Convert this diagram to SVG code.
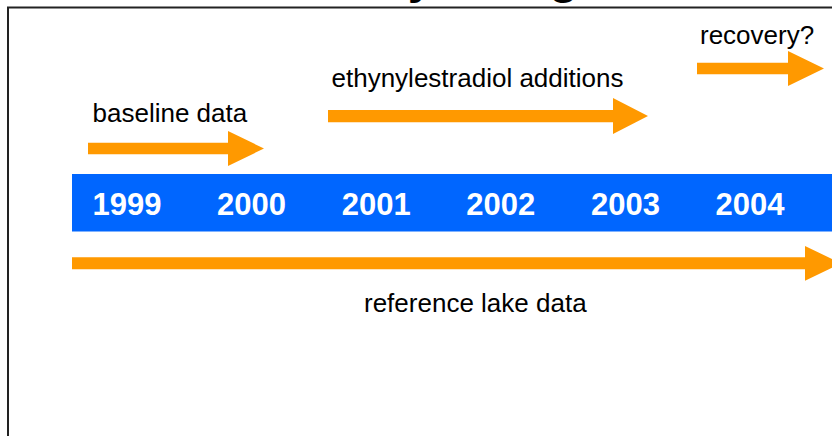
<svg xmlns="http://www.w3.org/2000/svg" width="832" height="436" viewBox="0 0 832 436">
<style>
.lbl{font-family:"Liberation Sans",Arial,sans-serif;font-size:26px;fill:#000}
.yr{font-family:"Liberation Sans",Arial,sans-serif;font-size:31px;font-weight:bold;fill:#fff;text-anchor:middle}
.arr{fill:#FF9900}
.title{font-family:"Liberation Sans",Arial,sans-serif;font-size:48px;font-weight:bold;fill:#000}
</style>
<rect width="832" height="436" fill="#fff"/>
<text class="title" x="301" y="-7.5">Study Design</text>
<path d="M8 436 V7.5 H832" fill="none" stroke="#222" stroke-width="2"/>
<g id="timeline">
<rect x="72" y="174" width="770" height="57.5" fill="#0066FF"/>
<text class="yr" x="127" y="215">1999</text>
<text class="yr" x="251.6" y="215">2000</text>
<text class="yr" x="376.2" y="215">2001</text>
<text class="yr" x="500.8" y="215">2002</text>
<text class="yr" x="625.4" y="215">2003</text>
<text class="yr" x="750" y="215">2004</text>
</g>
<g id="connectors">
<polygon id="baseline-arrow" class="arr" points="88,142.7 228,142.7 228,131 264,148.5 228,166 228,154.3 88,154.3"/>
<polygon id="ee2-arrow" class="arr" points="328,110 613,110 613,98 648,116 613,134 613,122.3 328,122.3"/>
<polygon id="recovery-arrow" class="arr" points="697,62.7 788,62.7 788,51 824,68.5 788,86 788,74.3 697,74.3"/>
<polygon id="reference-arrow" class="arr" points="72,257.3 805,257.3 805,246 841,263.3 805,280.7 805,269.3 72,269.3"/>
</g>
<g id="baseline"><text class="lbl" x="92.5" y="122">baseline data</text></g>
<g id="ee2"><text class="lbl" x="331.5" y="87">ethynylestradiol additions</text></g>
<g id="recovery"><text class="lbl" x="700" y="44">recovery?</text></g>
<g id="reference"><text class="lbl" x="364" y="312">reference lake data</text></g>
</svg>
